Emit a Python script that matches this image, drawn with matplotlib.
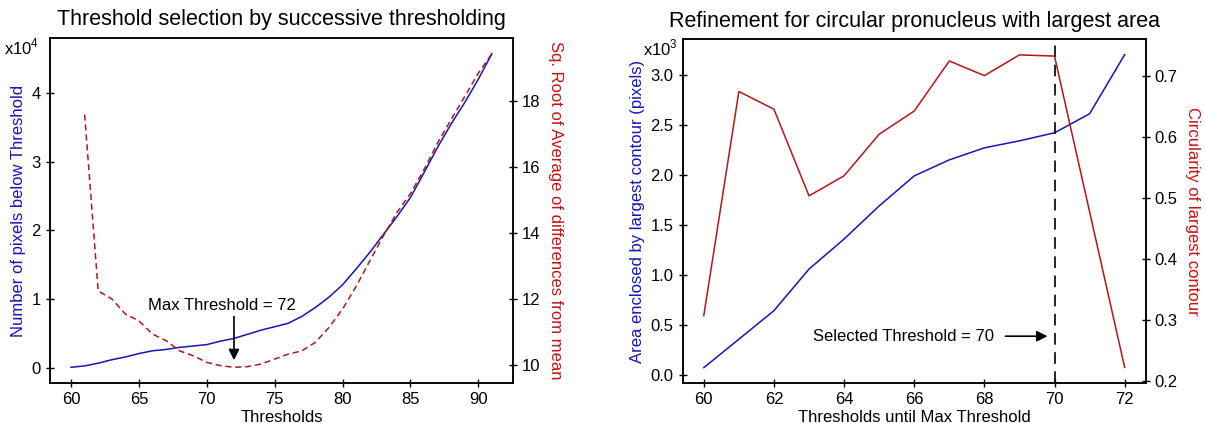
import matplotlib
matplotlib.use("Agg")
import matplotlib.pyplot as plt
import numpy as np

plt.rcParams['font.family'] = ['Liberation Sans', 'DejaVu Sans']
plt.rcParams['mathtext.fontset'] = 'custom'
plt.rcParams['mathtext.rm'] = 'Liberation Sans'

# left panel: successive thresholding
thresholds = list(range(60, 92))
pixels_below = [100, 300, 700, 1200, 1600, 2100, 2500, 2700, 3000, 3200, 3400,
                3900, 4300, 4900, 5500, 6000, 6500, 7500, 8800, 10300, 12100,
                14400, 16800, 19400, 22000, 24800, 28400, 32100, 35500, 38600,
                42000, 45700]
sqrt_diff_thresholds = list(range(61, 92))
sqrt_diff = [17.6, 12.24, 12.0, 11.54, 11.33, 10.93, 10.73, 10.42, 10.27, 10.07,
             9.97, 9.92, 9.94, 10.02, 10.17, 10.32, 10.42, 10.68, 11.13, 11.69,
             12.38, 13.15, 13.91, 14.62, 15.2, 15.93, 16.74, 17.45, 18.15,
             18.86, 19.45]
max_threshold = 72

# right panel: refinement
ref_thresholds = list(range(60, 73))
area = [76, 360, 645, 1060, 1360, 1690, 1990, 2150, 2270, 2340, 2420, 2610, 3200]
circularity = [0.307, 0.674, 0.645, 0.503, 0.536, 0.604, 0.642, 0.724, 0.700,
               0.734, 0.732, 0.477, 0.222]
selected_threshold = 70

blue = '#1515b5'
red = '#b01818'
label_red = '#c81010'

fig = plt.figure(figsize=(12.05, 4.23), dpi=100)
ax1 = fig.add_axes([0.0415, 0.0946, 0.3842, 0.8156])
ax2 = ax1.twinx()
ax3 = fig.add_axes([0.5666, 0.0938, 0.3842, 0.814])
ax4 = ax3.twinx()

for ax in (ax1, ax2, ax3, ax4):
    ax.tick_params(direction='inout', length=6, width=1, labelsize=12, colors='black')
    for s in ax.spines.values():
        s.set_linewidth(1.1)

# ---- left panel ----
ax1.plot(thresholds, np.array(pixels_below) / 1e4, color=blue, lw=1.1)
ax2.plot(sqrt_diff_thresholds, sqrt_diff, color=red, lw=1.1, linestyle=(0, (4, 2.5)))
ax1.set_yticks([0, 1, 2, 3, 4])
ax2.set_yticks([10, 12, 14, 16, 18])
ax1.set_xticks([60, 65, 70, 75, 80, 85, 90])
ax1.set_xlabel('Thresholds', fontsize=12, labelpad=2)
ax1.set_ylabel('Number of pixels below Threshold', color=blue, fontsize=12, labelpad=4)
ax2.set_ylabel('Sq. Root of Average of differences from mean', color=label_red,
               fontsize=12, rotation=270, labelpad=16)
ax1.set_title('Threshold selection by successive thresholding', fontsize=15.5, pad=9)
ax1.text(-0.024, 0.975, 'x10$^4$', transform=ax1.transAxes, ha='right', va='center',
         fontsize=12)
ax2.annotate('', xy=(max_threshold, 10.05), xytext=(max_threshold, 11.55),
             arrowprops=dict(arrowstyle='-|>', color='black', lw=1.2, mutation_scale=16))
ax2.text(71.1, 11.8, f'Max Threshold = {max_threshold}', ha='center', va='center',
         fontsize=12)

# ---- right panel ----
ax3.plot(ref_thresholds, np.array(area) / 1e3, color=blue, lw=1.1)
ax4.plot(ref_thresholds, circularity, color=red, lw=1.1)
ax3.axvline(selected_threshold, color='black', lw=1.2, linestyle=(0, (7, 4.5)))
ax3.set_xticks([60, 62, 64, 66, 68, 70, 72])
ax3.set_yticks([0.0, 0.5, 1.0, 1.5, 2.0, 2.5, 3.0])
ax3.set_yticklabels(['0.0', '0.5', '1.0', '1.5', '2.0', '2.5', '3.0'])
ax4.set_yticks([0.2, 0.3, 0.4, 0.5, 0.6, 0.7])
ax4.set_ylim(0.196, 0.760)
ax3.set_xlabel('Thresholds until Max Threshold', fontsize=12, labelpad=2)
ax3.set_ylabel('Area enclosed by largest contour (pixels)', color=blue, fontsize=12,
               labelpad=4)
ax4.set_ylabel('Circularity of largest contour', color=label_red, fontsize=12,
               rotation=270, labelpad=16)
ax3.set_title('Refinement for circular pronucleus with largest area', fontsize=15.5, pad=9)
ax3.text(-0.01, 0.975, 'x10$^3$', transform=ax3.transAxes, ha='right', va='center',
         fontsize=12)
ax3.annotate(f'Selected Threshold = {selected_threshold}', xy=(69.8, 0.39),
             xytext=(65.7, 0.39), ha='center', va='center', fontsize=12,
             arrowprops=dict(arrowstyle='-|>', color='black', lw=1.2,
                             mutation_scale=16, shrinkA=6, shrinkB=0))

fig.savefig('out.png', dpi=100)
